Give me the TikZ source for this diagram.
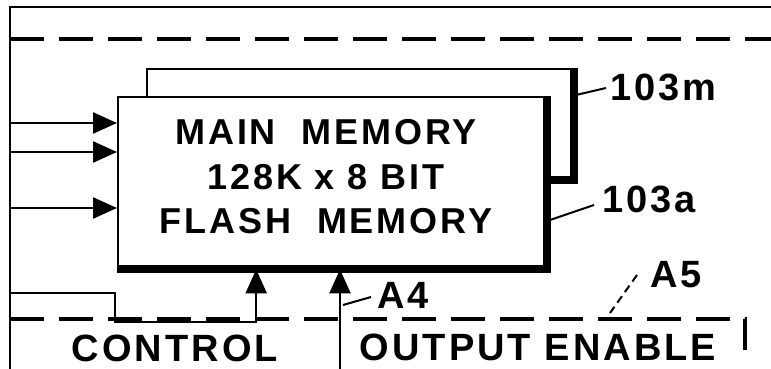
\documentclass[tikz,border=0pt]{standalone}
\usepackage{fontspec}
\setmainfont{Liberation Sans}
\newfontfamily\patfont{Liberation Sans Bold}[LetterSpace=8]
\usetikzlibrary{positioning,arrows.meta}

\begin{document}
\begin{tikzpicture}[x=1pt,y=1pt,
  chip/.style={draw,fill=white,line width=2.4pt,inner sep=0pt,anchor=north west},
  sig/.style={-{Triangle[length=24pt,width=21pt]},line width=2.4pt},
  lead/.style={line width=2pt},
  lbl/.style={font=\patfont\fontsize{38}{40}\selectfont,inner sep=0pt},
  bus/.style={dash pattern=on 34pt off 15pt,line width=3.2pt},
]
\useasboundingbox (0,0) rectangle (771,369);
% frame and board edges
\draw[line width=2pt] (10,0) -- (10,362) -- (771,362);
\draw[bus] (10,330) -- (771,330);
\draw[bus] (10,50) -- (745,50) -- (745,19);
% memory planes
\node[chip,minimum width=426pt,minimum height=110pt] (chipm) at (146,301) {};
\draw[line width=8pt] (chipm.north east) -- (chipm.south east) -- (chipm.south west);
\node[chip,minimum width=428pt,minimum height=171pt] (chipa) at (117,273) {};
\draw[line width=8pt] (chipa.north east) -- (chipa.south east) -- (chipa.south west);
\node[font=\patfont\fontsize{36}{44.5}\selectfont,align=center,inner sep=0pt] (txt) at (326,192)
  {MAIN\ \ MEMORY\\128K x 8 BIT\\FLASH\ \ MEMORY};
% address inputs
\foreach \y [count=\i] in {246,217,161} {
  \coordinate (in\i) at (10,\y);
  \draw[sig] (in\i) -- (in\i -| chipa.west);
}
% control and output enable
\coordinate (ctl) at (10,76);
\coordinate (oe) at (340,0);
\draw[sig] (ctl) -| (115,47) -| ([xshift=-76pt]chipa.south);
\draw[sig] (oe) -- (oe |- chipa.south);
\node[lbl] (ctltxt) at (175,21) {CONTROL};
\node[lbl] (oetxt) at (538,22) {OUTPUT ENABLE};
% reference numerals
\node[lbl,anchor=west] (lblm) at (610,282) {103m};
\draw[lead] (lblm.west) ++(-4,-1) -- ++(-30,-7);
\node[lbl,anchor=west] (lbla) at (602,170) {103a};
\draw[lead] (lbla.west) ++(-8,-6) -- ++(-44,-15);
\node[lbl,anchor=west] (lbl4) at (377,74) {A4};
\draw[lead] (lbl4.west) ++(-6,-2) -- ++(-28,-8);
\node[lbl,anchor=west] (lbl5) at (650,94) {A5};
\draw[lead,dash pattern=on 8pt off 5pt] (lbl5.west) ++(-13,0) -- ++(-27,-38);
\end{tikzpicture}
\end{document}
